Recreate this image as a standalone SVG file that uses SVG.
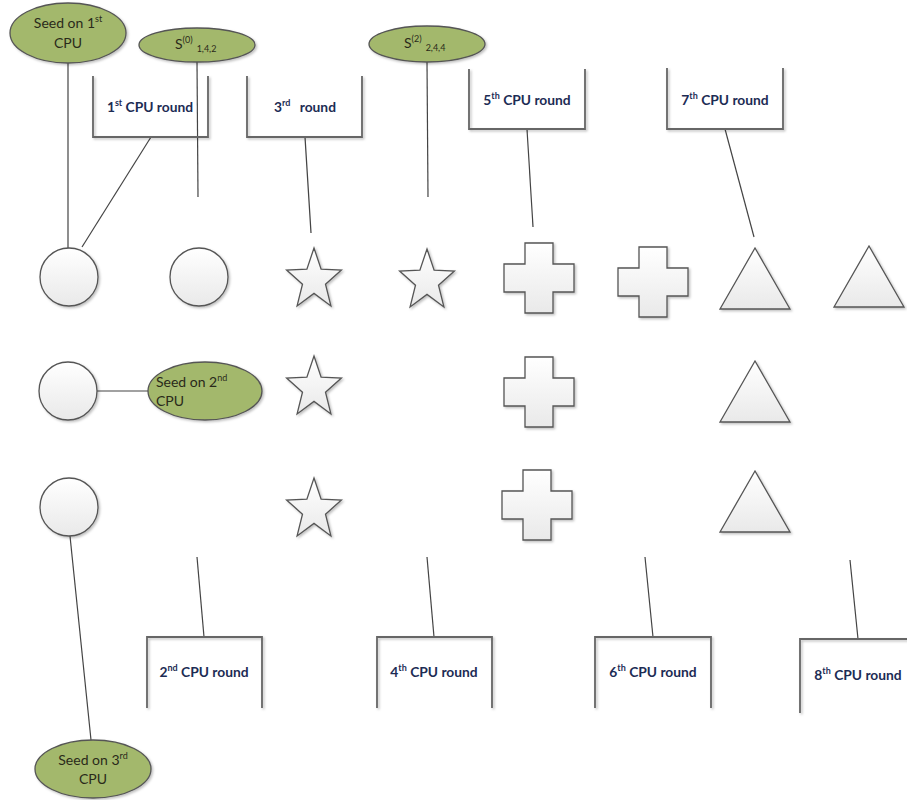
<svg xmlns="http://www.w3.org/2000/svg" width="907" height="800" viewBox="0 0 907 800">
  <defs>
    <linearGradient id="shapeFill" x1="0" y1="0" x2="0" y2="1">
      <stop offset="0" stop-color="#ffffff"/>
      <stop offset="1" stop-color="#e9e9e9"/>
    </linearGradient>
    <filter id="shadow" x="-20%" y="-20%" width="150%" height="150%">
      <feDropShadow dx="1.5" dy="1.5" stdDeviation="1" flood-color="#000" flood-opacity="0.25"/>
    </filter>
    <path id="star" d="M0,-32 L7.1,-10.9 L27.4,-9.9 L11.5,4.2 L16.9,25.9 L0,13.4 L-16.9,25.9 L-11.5,4.2 L-27.4,-9.9 L-7.1,-10.9 Z"/>
    <path id="plus" d="M21,0 H49 V21 H70 V49 H49 V70 H21 V49 H0 V21 H21 Z"/>
    <path id="tri" d="M35,0 L70,61 L0,61 Z"/>
  </defs>
  <style>
    .shape { fill: url(#shapeFill); stroke: #555; stroke-width: 1.3; filter: url(#shadow); }
    .seed { fill: #a3b86c; stroke: #555; stroke-width: 1.3; filter: url(#shadow); }
    .bracket { fill: none; stroke: #666; stroke-width: 1.8; filter: url(#shadow); }
    .conn { stroke: #444; stroke-width: 1.2; fill: none; }
    .label { font-family: Lato, "Liberation Sans", sans-serif; font-weight: bold; font-size: 13.8px; fill: #1c2c54; text-anchor: middle; }
    .seedtxt { font-family: Lato, "Liberation Sans", sans-serif; font-size: 14px; fill: #2a2a1a; }
    .sup { font-size: 9px; }
  </style>

  <rect width="907" height="800" fill="#ffffff"/>

  <!-- connectors -->
  <g id="connectors">
    <line class="conn" x1="68" y1="63" x2="68" y2="248"/>
    <line class="conn" x1="151" y1="137" x2="82" y2="247"/>
    <line class="conn" x1="197" y1="62" x2="198" y2="197"/>
    <line class="conn" x1="305" y1="137" x2="311" y2="233"/>
    <line class="conn" x1="427" y1="62" x2="428" y2="197"/>
    <line class="conn" x1="527" y1="129" x2="533" y2="227"/>
    <line class="conn" x1="725" y1="129" x2="754" y2="237"/>
    <line class="conn" x1="97" y1="391" x2="148" y2="391"/>
    <line class="conn" x1="70" y1="536" x2="91" y2="740"/>
    <line class="conn" x1="204" y1="637" x2="197" y2="557"/>
    <line class="conn" x1="434" y1="637" x2="427" y2="557"/>
    <line class="conn" x1="653" y1="637" x2="645" y2="557"/>
    <line class="conn" x1="858" y1="639" x2="850" y2="560"/>
  </g>

  <!-- seed and state ellipses -->
  <g id="seed1">
    <ellipse class="seed" cx="68" cy="33" rx="58" ry="30"/>
    <text class="seedtxt" x="68" y="28" text-anchor="middle">Seed on 1<tspan class="sup" dy="-6">st</tspan></text>
    <text class="seedtxt" x="68" y="48" text-anchor="middle">CPU</text>
  </g>
  <g id="s0">
    <ellipse class="seed" cx="197" cy="45" rx="58" ry="17"/>
    <text class="seedtxt" x="175" y="49">S<tspan class="sup" dy="-6">(0)</tspan><tspan class="sup" dx="4" dy="9">1,4,2</tspan></text>
  </g>
  <g id="s2">
    <ellipse class="seed" cx="427" cy="44" rx="58" ry="18"/>
    <text class="seedtxt" x="404" y="48">S<tspan class="sup" dy="-6">(2)</tspan><tspan class="sup" dx="4" dy="9">2,4,4</tspan></text>
  </g>
  <g id="seed2">
    <ellipse class="seed" cx="205" cy="391" rx="57" ry="29"/>
    <text class="seedtxt" x="156" y="387">Seed on 2<tspan class="sup" dy="-6">nd</tspan></text>
    <text class="seedtxt" x="156" y="406">CPU</text>
  </g>
  <g id="seed3">
    <ellipse class="seed" cx="93" cy="769" rx="58" ry="29"/>
    <text class="seedtxt" x="93" y="765" text-anchor="middle">Seed on 3<tspan class="sup" dy="-6">rd</tspan></text>
    <text class="seedtxt" x="93" y="784" text-anchor="middle">CPU</text>
  </g>

  <!-- CPU round brackets -->
  <g id="round1">
    <path class="bracket" d="M93,76 V137 H208 V76"/>
    <text class="label" x="150" y="112">1<tspan class="sup" dy="-6">st</tspan><tspan dy="6"> CPU round</tspan></text>
  </g>
  <g id="round3">
    <path class="bracket" d="M247,76 V137 H362 V76"/>
    <text class="label" x="305" y="112">3<tspan class="sup" dy="-6">rd</tspan><tspan dx="6" dy="6"> round</tspan></text>
  </g>
  <g id="round5">
    <path class="bracket" d="M469,69 V129 H585 V69"/>
    <text class="label" x="527" y="105">5<tspan class="sup" dy="-6">th</tspan><tspan dy="6"> CPU round</tspan></text>
  </g>
  <g id="round7">
    <path class="bracket" d="M667,68 V129 H783 V68"/>
    <text class="label" x="725" y="105">7<tspan class="sup" dy="-6">th</tspan><tspan dy="6"> CPU round</tspan></text>
  </g>
  <g id="round2">
    <path class="bracket" d="M147,708 V637 H262 V708"/>
    <text class="label" x="204" y="677">2<tspan class="sup" dy="-6">nd</tspan><tspan dy="6"> CPU round</tspan></text>
  </g>
  <g id="round4">
    <path class="bracket" d="M377,708 V637 H492 V708"/>
    <text class="label" x="434" y="677">4<tspan class="sup" dy="-6">th</tspan><tspan dy="6"> CPU round</tspan></text>
  </g>
  <g id="round6">
    <path class="bracket" d="M595,708 V637 H711 V708"/>
    <text class="label" x="653" y="677">6<tspan class="sup" dy="-6">th</tspan><tspan dy="6"> CPU round</tspan></text>
  </g>
  <g id="round8">
    <path class="bracket" d="M800,713 V639 H915"/>
    <text class="label" x="858" y="680">8<tspan class="sup" dy="-6">th</tspan><tspan dy="6"> CPU round</tspan></text>
  </g>

  <!-- circles -->
  <g id="circle1"><circle class="shape" cx="69" cy="277" r="29"/></g>
  <g id="circle2"><circle class="shape" cx="199" cy="277" r="29"/></g>
  <g id="circle3"><circle class="shape" cx="68" cy="391" r="29"/></g>
  <g id="circle4"><circle class="shape" cx="69" cy="507" r="29"/></g>

  <!-- stars -->
  <g id="star1"><use href="#star" class="shape" x="314" y="280"/></g>
  <g id="star2"><use href="#star" class="shape" x="427" y="281"/></g>
  <g id="star3"><use href="#star" class="shape" x="314" y="388"/></g>
  <g id="star4"><use href="#star" class="shape" x="314" y="510"/></g>

  <!-- crosses -->
  <g id="plus1"><use href="#plus" class="shape" x="504" y="243"/></g>
  <g id="plus2"><use href="#plus" class="shape" x="618" y="247"/></g>
  <g id="plus3"><use href="#plus" class="shape" x="504" y="357"/></g>
  <g id="plus4"><use href="#plus" class="shape" x="502" y="470"/></g>

  <!-- triangles -->
  <g id="tri1"><use href="#tri" class="shape" x="720" y="248"/></g>
  <g id="tri2"><use href="#tri" class="shape" x="834" y="246"/></g>
  <g id="tri3"><use href="#tri" class="shape" x="720" y="361"/></g>
  <g id="tri4"><use href="#tri" class="shape" x="720" y="471"/></g>
</svg>
